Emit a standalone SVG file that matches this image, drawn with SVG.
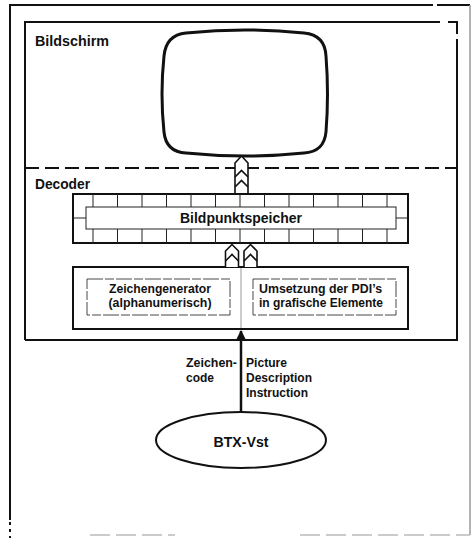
<svg xmlns="http://www.w3.org/2000/svg" width="471" height="538" viewBox="0 0 471 538">
  <style>
    .lbl { font-family: "Liberation Sans", Arial, sans-serif; font-weight: bold; fill: #111; }
    .big { font-size: 15px; }
    .mid { font-size: 14.5px; }
    .sm { font-size: 12.5px; }
    .frame { fill: none; stroke: #111; stroke-width: 2; }
    .thin { fill: none; stroke: #222; stroke-width: 1; }
    .sub { fill: none; stroke: #333; stroke-width: 0.9; stroke-dasharray: 16 2 9 2; }
    .tube { fill: #fff; stroke: #111; stroke-width: 1.6; stroke-linejoin: round; }
    .chev { fill: none; stroke: #111; stroke-width: 1.6; }
  </style>
  <defs>
    <marker id="arrowhead" viewBox="0 0 10 10" refX="9" refY="5" markerWidth="4" markerHeight="4" orient="auto">
      <path d="M0,0 L10,5 L0,10 Z" fill="#111"/>
    </marker>
  </defs>
  <rect width="471" height="538" fill="#fff"/>

  <!-- outer sheet border -->
  <g id="sheet">
    <path d="M10,520 L10,5 L433,5 M437,5 L470,5" class="frame"/>
    <path d="M470,5 L470,535" fill="none" stroke="#9a9a9a" stroke-width="1.5"/>
    <path d="M10,522 L10,538" fill="none" stroke="#111" stroke-width="2" stroke-dasharray="3 4"/>
    <path d="M90,535 L175,535 M300,535 L470,535" fill="none" stroke="#bbb" stroke-width="1.5" stroke-dasharray="20 6"/>
  </g>

  <!-- terminal enclosure: screen and decoder -->
  <g id="terminal">
    <path d="M25,340 L25,22 L440,22 M448,22 L457,22 L457,34 M457,39 L457,340 L25,340" class="frame"/>
    <line x1="25" y1="168" x2="457" y2="168" stroke="#111" stroke-width="2" stroke-dasharray="14 6"/>
    <text x="35" y="46" class="lbl big" textLength="74" lengthAdjust="spacingAndGlyphs">Bildschirm</text>
    <text x="35" y="189" class="lbl big" textLength="55" lengthAdjust="spacingAndGlyphs">Decoder</text>
  </g>

  <!-- picture tube -->
  <g id="screen">
    <path d="M186,33 Q245,27 304,33 Q325,35 326,56 Q329,94 326,132 Q324,152 304,153 Q245,159 186,153 Q166,152 164,132 Q160,94 164,56 Q166,35 186,33 Z" fill="#fff" stroke="#111" stroke-width="3"/>
  </g>

  <!-- pixel memory -->
  <g id="memory">
    <rect x="73" y="194" width="335" height="49" class="frame"/>
    <rect x="86" y="207" width="310" height="22" fill="#fff" stroke="#222" stroke-width="1"/>
    <path class="thin" d="M93,194V207 M117.5,194V207 M142,194V207 M166.5,194V207 M191,194V207 M215.5,194V207 M240,194V207 M264.5,194V207 M289,194V207 M313.5,194V207 M338,194V207 M362.5,194V207 M387,194V207
      M93,229V243 M117.5,229V243 M142,229V243 M166.5,229V243 M191,229V243 M215.5,229V243 M240,229V243 M264.5,229V243 M289,229V243 M313.5,229V243 M338,229V243 M362.5,229V243 M387,229V243
      M73,218H86 M396,218H408"/>
    <text x="241" y="223" class="lbl mid" text-anchor="middle" textLength="122" lengthAdjust="spacingAndGlyphs">Bildpunktspeicher</text>
  </g>

  <!-- character generator and PDI conversion -->
  <g id="generator">
    <rect x="73" y="267" width="335" height="62" class="frame"/>
    <line x1="241" y1="268" x2="241" y2="328" stroke="#999" stroke-width="1"/>
    <rect x="87" y="279" width="143" height="36" class="sub"/>
    <rect x="253" y="279" width="143" height="36" class="sub"/>
    <text x="160" y="293" class="lbl sm" text-anchor="middle" textLength="102" lengthAdjust="spacingAndGlyphs">Zeichengenerator</text>
    <text x="160" y="307" class="lbl sm" text-anchor="middle" textLength="103" lengthAdjust="spacingAndGlyphs">(alphanumerisch)</text>
    <text x="259" y="293" class="lbl sm" textLength="123" lengthAdjust="spacingAndGlyphs">Umsetzung der PDI’s</text>
    <text x="259" y="307" class="lbl sm" textLength="124" lengthAdjust="spacingAndGlyphs">in grafische Elemente</text>
  </g>

  <!-- videotex centre -->
  <g id="btx">
    <ellipse cx="241" cy="440" rx="85" ry="28" fill="#fff" stroke="#111" stroke-width="2"/>
    <text x="241" y="447" class="lbl big" text-anchor="middle" textLength="55" lengthAdjust="spacingAndGlyphs">BTX-Vst</text>
  </g>

  <!-- connectors -->
  <g id="connectors">
    <!-- memory to screen -->
    <path class="tube" d="M235,193 L235,163 L241.5,156 L248,163 L248,193"/>
    <polyline class="chev" points="235,177 241.5,170.5 248,177"/>
    <polyline class="chev" points="235,187 241.5,180.5 248,187"/>
    <!-- generator to memory -->
    <path class="tube" d="M225.5,267 L225.5,251 L232,244.5 L238.5,251 L238.5,267"/>
    <polyline class="chev" points="225.5,261 232,254.5 238.5,261"/>
    <path class="tube" d="M244,267 L244,251 L250.5,244.5 L257,251 L257,267"/>
    <polyline class="chev" points="244,261 250.5,254.5 257,261"/>
    <!-- videotex centre to decoder -->
    <line x1="241" y1="412" x2="241" y2="331" stroke="#111" stroke-width="2.5" marker-end="url(#arrowhead)"/>
    <text x="237" y="367" class="lbl sm" text-anchor="end" textLength="51" lengthAdjust="spacingAndGlyphs">Zeichen-</text>
    <text x="186" y="382" class="lbl sm" textLength="28" lengthAdjust="spacingAndGlyphs">code</text>
    <text x="246" y="367" class="lbl sm" textLength="41" lengthAdjust="spacingAndGlyphs">Picture</text>
    <text x="246" y="382" class="lbl sm" textLength="66" lengthAdjust="spacingAndGlyphs">Description</text>
    <text x="246" y="397" class="lbl sm" textLength="62" lengthAdjust="spacingAndGlyphs">Instruction</text>
  </g>
</svg>
